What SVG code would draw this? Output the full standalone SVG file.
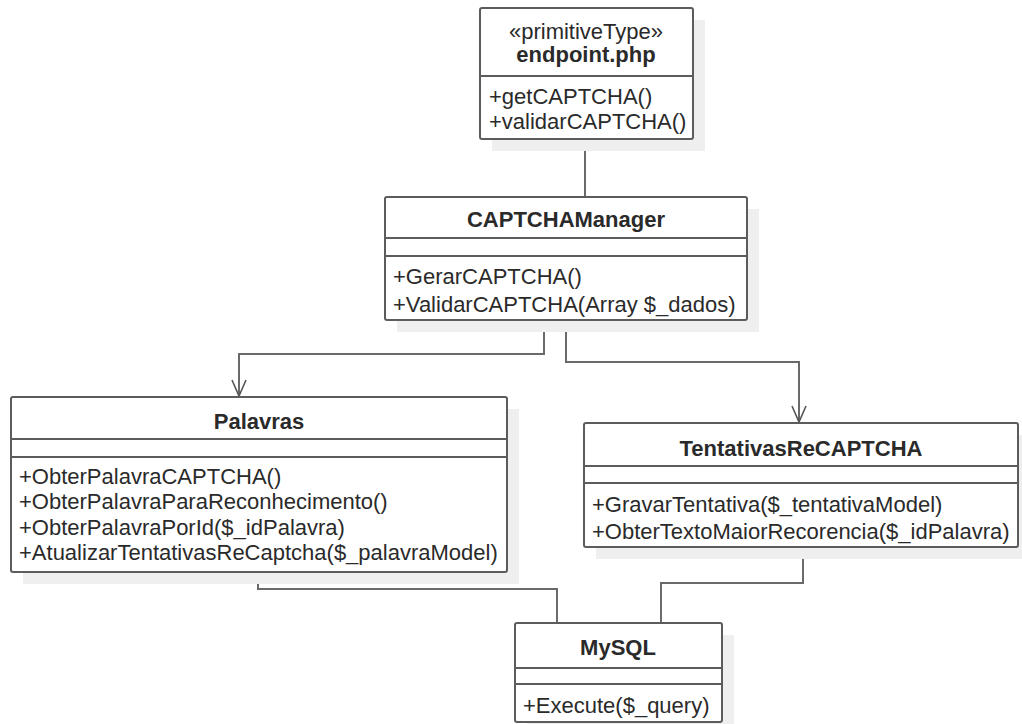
<svg xmlns="http://www.w3.org/2000/svg" width="1022" height="724" viewBox="0 0 1022 724">
  <style>
    .shadow { fill: #efefef; stroke: none; }
    .box { fill: #ffffff; stroke: #5c5c5c; stroke-width: 2; }
    .div { stroke: #5c5c5c; stroke-width: 2; }
    .t { font-family: "Liberation Sans", Arial, sans-serif; font-size: 22px; fill: #2a2a2a; }
    .title { font-weight: bold; text-anchor: middle; }
    .ster { text-anchor: middle; }
    .conn { fill: none; stroke: #6a6a6a; stroke-width: 2; }
  </style>
  <defs>
    <!-- open "V" arrowhead, drawn along the +x direction of the path -->
    <marker id="open" viewBox="0 0 18 16" refX="17" refY="8" markerWidth="18" markerHeight="16" markerUnits="userSpaceOnUse" orient="auto">
      <path d="M1,1 L17,8 L1,15" fill="none" stroke="#555555" stroke-width="1.6"/>
    </marker>
  </defs>
  <rect width="1022" height="724" fill="#ffffff"/>

  <!-- connectors -->
  <g id="connectors">
    <path class="conn" d="M585,139 V197"/>
    <path class="conn" d="M544,320 V354 H239 V396" marker-end="url(#open)"/>
    <path class="conn" d="M566,320 V362 H799 V422" marker-end="url(#open)"/>
    <path class="conn" d="M258,572 V589 H557 V623"/>
    <path class="conn" d="M803,547 V583 H661 V623"/>
  </g>

  <!-- endpoint.php -->
  <g id="endpoint">
    <rect class="shadow" x="492" y="20" width="213" height="131"/>
    <rect class="box" x="480" y="8" width="213" height="131" rx="2"/>
    <line class="div" x1="480" y1="76" x2="693" y2="76"/>
    <text class="t ster" x="586" y="39">«primitiveType»</text>
    <text class="t title" x="586" y="62">endpoint.php</text>
    <text class="t" x="489" y="104">+getCAPTCHA()</text>
    <text class="t" x="489" y="129">+validarCAPTCHA()</text>
  </g>

  <!-- CAPTCHAManager -->
  <g id="captchamanager">
    <rect class="shadow" x="397" y="209" width="362" height="123"/>
    <rect class="box" x="385" y="197" width="362" height="123" rx="2"/>
    <line class="div" x1="385" y1="238" x2="747" y2="238"/>
    <line class="div" x1="385" y1="256" x2="747" y2="256"/>
    <text class="t title" x="566" y="227">CAPTCHAManager</text>
    <text class="t" x="393" y="284">+GerarCAPTCHA()</text>
    <text class="t" x="393" y="312">+ValidarCAPTCHA(Array $_dados)</text>
  </g>

  <!-- Palavras -->
  <g id="palavras">
    <rect class="shadow" x="23" y="409" width="496" height="175"/>
    <rect class="box" x="11" y="397" width="496" height="175" rx="2"/>
    <line class="div" x1="11" y1="439" x2="507" y2="439"/>
    <line class="div" x1="11" y1="457" x2="507" y2="457"/>
    <text class="t title" x="259" y="429">Palavras</text>
    <text class="t" x="19" y="484">+ObterPalavraCAPTCHA()</text>
    <text class="t" x="19" y="509">+ObterPalavraParaReconhecimento()</text>
    <text class="t" x="19" y="535">+ObterPalavraPorId($_idPalavra)</text>
    <text class="t" x="19" y="560">+AtualizarTentativasReCaptcha($_palavraModel)</text>
  </g>

  <!-- TentativasReCAPTCHA -->
  <g id="tentativas">
    <rect class="shadow" x="596" y="435" width="434" height="124"/>
    <rect class="box" x="584" y="423" width="434" height="124" rx="2"/>
    <line class="div" x1="584" y1="466" x2="1018" y2="466"/>
    <line class="div" x1="584" y1="483" x2="1018" y2="483"/>
    <text class="t title" x="801" y="456">TentativasReCAPTCHA</text>
    <text class="t" x="592" y="512">+GravarTentativa($_tentativaModel)</text>
    <text class="t" x="592" y="539">+ObterTextoMaiorRecorencia($_idPalavra)</text>
  </g>

  <!-- MySQL -->
  <g id="mysql">
    <rect class="shadow" x="527" y="635" width="207" height="99"/>
    <rect class="box" x="515" y="623" width="207" height="99" rx="2"/>
    <line class="div" x1="515" y1="668" x2="722" y2="668"/>
    <line class="div" x1="515" y1="684" x2="722" y2="684"/>
    <text class="t title" x="618" y="655">MySQL</text>
    <text class="t" x="523" y="713">+Execute($_query)</text>
  </g>
</svg>
